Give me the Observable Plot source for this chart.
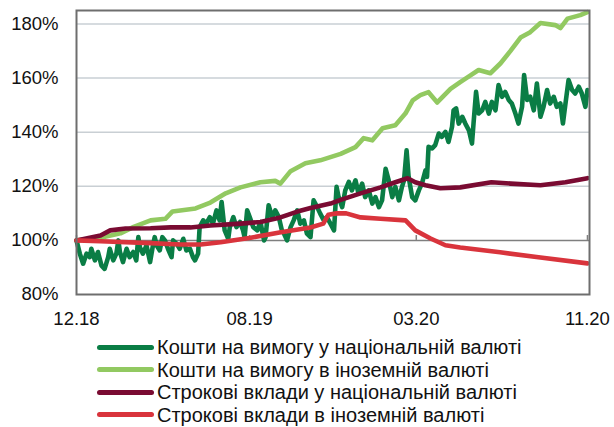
<!DOCTYPE html>
<html>
<head>
<meta charset="utf-8">
<script src="https://cdn.jsdelivr.net/npm/d3@7"></script>
<script src="https://cdn.jsdelivr.net/npm/@observablehq/plot@0.6"></script>
<style>
  body { margin: 0; background: #fff; font-family: "Liberation Sans", Arial, sans-serif; }
  #wrap { position: relative; width: 614px; height: 427px; overflow: hidden; }
  #legend { position: absolute; left: 97px; top: 336px; }
  .row { display: flex; align-items: center; height: 22.5px; line-height: 22px; font-size: 20px; color: #111; white-space: nowrap; }
  .sw { width: 57px; height: 5px; border-radius: 3px; margin-right: 3px; }
</style>
</head>
<body>
<div id="wrap"><div id="chart"></div><div id="legend"></div></div>
<script>
// Time index (0 = 12.18, 100 = 11.20) and values in %
const xTickPos = [0, 33.9, 66.5, 100];
const xTickLabels = ["12.18", "08.19", "03.20", "11.20"];
const yTicks = [80, 100, 120, 140, 160, 180];

const seriesNames = [
  "Кошти на вимогу у національній валюті",
  "Кошти на вимогу в іноземній валюті",
  "Строкові вклади у національній валюті",
  "Строкові вклади в іноземній валюті"
];
const seriesColors = ["#0a7d45", "#92c961", "#7a0b32", "#d9343c"];

const tDemandUAH = [0,0.65,1.3,1.96,2.6,2.9,3.6,4.2,4.9,5.5,6.2,6.5,7.2,7.8,8.2,8.5,9.1,9.8,10.4,11.1,11.7,12.1,12.4,13,13.7,14.4,14.9,15.3,15.7,16.3,16.8,17.3,17.9,18.6,18.9,19.6,20.2,20.9,21.5,22.2,22.8,23.2,23.8,24.1,24.8,25.4,26.1,26.7,27.4,28,28.4,29,29.7,30,30.7,31.3,32,32.6,32.9,33.4,33.9,34.6,35.4,36,36.7,37,37.6,38.3,38.9,39.6,40.2,40.6,41.2,41.9,42.5,43.2,43.8,44.5,45.1,45.8,46.4,47.1,47.7,48.4,49,49.7,50.4,50.9,51.3,52,52.6,53.3,53.9,54.6,55.2,55.9,56.5,57.2,57.9,58.5,59.2,59.8,60.5,61.1,61.8,62.4,63.1,63.7,64.1,64.6,65,65.7,66.3,67,67.6,68.3,68.6,68.9,69.6,70.2,70.9,71.5,72.2,72.8,73.5,73.8,74.3,74.8,75.5,76.1,76.8,77.4,77.7,78.2,78.7,79.4,80,80.7,81.3,82,82.6,83.3,83.9,84.6,85.2,85.9,86.5,87.2,87.6,88.2,88.8,89.5,90.1,90.8,91.4,92.1,92.7,93.4,94,94.7,95.2,95.7,96.3,97,97.6,98.3,98.9,99.6,100];
const vDemandUAH = [100,95.1,91.4,95.1,93.8,96.9,92.6,95.7,90.7,89.5,93.8,96.9,92.6,95.1,100,95.7,92,96.9,93.8,95.7,92.6,101.2,97.5,95.1,98.1,92,97.5,101.2,98.1,96.3,101.2,100,96.9,93.8,100,98.8,96.9,100.6,96.3,96.9,93.8,92.6,95.1,104.9,107.4,106.2,108.6,106.2,111.1,107.4,114.2,103.7,100.6,104.9,108.6,104.9,106.8,103.7,101.2,111.1,108.6,104.9,103.7,106.8,100,101.2,113,108.6,111.1,108.6,103.7,102.5,100,104.9,107.4,111.1,106.2,107.4,102.5,101.2,114.8,112.3,109.9,107.4,108.6,106.2,103.7,119.8,116,112.3,118.5,121.6,118.5,122.2,117.3,121,116,118.5,113.6,116,112.3,114.8,126.5,122.2,116,119.8,114.8,119.8,122.2,133.3,123.5,116,114.8,118.5,121,125.9,123.5,134.6,134,135.2,139.5,138.3,140.1,136.4,142,148.1,148.8,143.2,145.7,143.2,140.7,135.8,143.2,154.9,146.9,148.1,151.2,146.9,151.2,148.1,157.4,153.1,154.9,151.9,150.6,146.9,143.2,149.4,161.1,151.9,153.1,148.1,158,145.7,149.4,155.6,150.6,153.1,149.4,150.6,143.2,150.6,159.3,155.6,154.3,156.8,154.3,149.4,155.6];

const tDemandFX = [0,4.7,8.6,11.2,14.5,17.4,18.8,23.3,26.2,29.2,32.1,36,38.9,39.9,41.9,44.8,47.7,51.7,54.6,56.2,57.9,59.9,62.4,64.4,65.8,67.3,68.9,70.6,73.2,75.1,77.1,78.7,81,83,84.9,86.9,88.8,90.8,93.7,94.7,96.1,98.6,100];
const vDemandFX = [100,101,102.6,105,107.4,108,110.7,111.8,114,117.4,119.6,121.5,122,121,125.6,128.5,129.6,132,134.5,137.8,137,141.5,142.6,147,151.8,153.7,154.8,151,156,158.5,161,163,161.8,165.5,170,175,177,180.4,179.6,178.5,182,183.3,184.4];

const tTermUAH = [0,4.7,6.6,9.6,14.5,18.4,22.3,26.2,32.1,36,39.9,43.8,45.8,49.7,51.7,55.6,59.5,62.4,64.8,66.3,68.3,71.2,75.1,81.2,85,90.8,95.7,100];
const vTermUAH = [100,101.8,103.7,104.4,104.5,104.8,104.8,105.5,106.2,106.8,108.5,111,112,113.6,115,117.4,119.6,121.5,123,121.5,120.4,119.3,119.6,121.5,121,120.4,121.5,123];

const tTermFX = [0,4.7,14.5,20.4,24.3,28.2,34.1,40,45.8,48.3,49.3,50.9,52.8,55.6,59.5,64.4,66.3,69.3,72.2,75.1,82.9,90.8,100];
const vTermFX = [100,99.7,99,98.5,98.5,99.3,101,103,104.8,106.2,109.5,110,110,108.5,108,107.4,103.7,100.7,98.2,97.4,95.6,93.7,91.5];

const tArr = [tDemandUAH, tDemandFX, tTermUAH, tTermFX];
const vArr = [vDemandUAH, vDemandFX, vTermUAH, vTermFX];
const data = [];
seriesNames.forEach((name, k) => {
  tArr[k].forEach((t, i) => data.push({series: name, t, v: vArr[k][i]}));
});

const H = 330;
const chart = Plot.plot({
  width: 614,
  height: H,
  marginLeft: 76,
  marginRight: 25,
  marginTop: 10,
  marginBottom: H - 294,
  style: {fontFamily: "Liberation Sans, Arial, sans-serif", fontSize: "18.5px", color: "#111", background: "#fff"},
  x: {domain: [0, 100.4]},
  y: {domain: [80, 185]},
  color: {domain: seriesNames, range: seriesColors},
  marks: [
    Plot.gridY(yTicks.filter(d => d > 100), {stroke: "#c9cfd4", strokeOpacity: 1, strokeWidth: 1.5}),
    Plot.ruleY([100], {stroke: "#7f7f7f", strokeWidth: 1.5}),
    Plot.ruleX(xTickPos, {x: d => d, y1: 100, y2: 101.8, stroke: "#7f7f7f", strokeWidth: 1.5}),
    Plot.axisY({ticks: yTicks, tickFormat: d => d + "%", tickSize: 0, tickPadding: 18, label: null}),
    Plot.axisX({ticks: xTickPos, tickFormat: (d, i) => xTickLabels[i], tickSize: 0, tickPadding: 17, label: null}),
    Plot.line(data, {x: "t", y: "v", z: "series", stroke: "series", strokeWidth: 4.6, curve: "linear", strokeLinejoin: "round"}),
    Plot.frame({stroke: "#6e6e6e", strokeWidth: 2})
  ]
});
document.getElementById("chart").appendChild(chart);

const legend = document.getElementById("legend");
seriesNames.forEach((name, k) => {
  const row = document.createElement("div");
  row.className = "row";
  const sw = document.createElement("span");
  sw.className = "sw";
  sw.style.background = seriesColors[k];
  const tx = document.createElement("span");
  tx.textContent = name;
  row.appendChild(sw);
  row.appendChild(tx);
  legend.appendChild(row);
});
</script>
</body>
</html>
